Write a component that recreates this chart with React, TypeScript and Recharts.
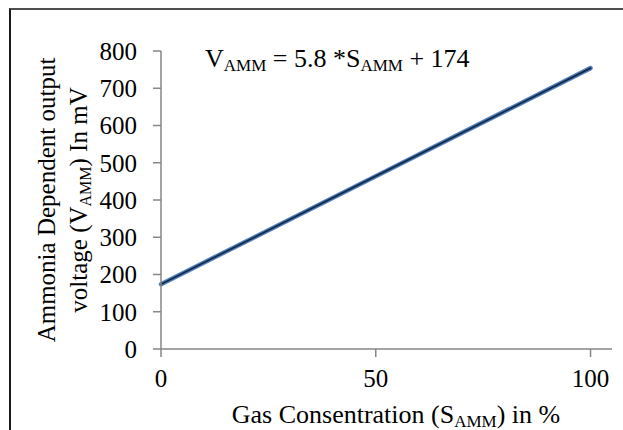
import React from "react";
import { Label, Line, LineChart, XAxis, YAxis } from "recharts";

const gasPercent = [0, 50, 100];
const voltageMv = [174, 464, 754];
const xTicks = [0, 50, 100];
const yTicks = [0, 100, 200, 300, 400, 500, 600, 700, 800];

const data = gasPercent.map((x, i) => ({ x, v: voltageMv[i] }));

const FONT = "'Liberation Serif', 'Times New Roman', serif";
const AXIS = "#868686";

function YTitle() {
	return <text
		transform="rotate(-90)"
		fontFamily={FONT}
		fontSize={25}
		fill="#000"
		textAnchor="middle"
	>
		<tspan x={-200} y={55}>Ammonia Dependent output</tspan>
		<tspan x={-200} y={87}>voltage (V<tspan fontSize={16} dy={4}>AMM</tspan><tspan dy={-4}>) In mV</tspan></tspan>
	</text>;
}

function XTitle() {
	return <text x={396} y={423} fontFamily={FONT} fontSize={26} fill="#000" textAnchor="middle">
		Gas Consentration (S<tspan fontSize={17} dy={4}>AMM</tspan><tspan dy={-4}>) in %</tspan>
	</text>;
}

function Equation() {
	return <text x={205} y={67} fontFamily={FONT} fontSize={26} fill="#000">
		V<tspan fontSize={17} dy={4}>AMM</tspan>
		<tspan dy={-4}> = 5.8 *S</tspan>
		<tspan fontSize={17} dy={4}>AMM</tspan>
		<tspan dy={-4}> + 174</tspan>
	</text>;
}

function App() {
	return <div style={{ position: "absolute", left: 0, top: 0, width: 623, height: 430, overflow: "hidden", background: "#fff" }}>
		<div style={{
			position: "absolute", left: 9, top: 8, width: 700, height: 500,
			borderTop: "2px solid #505050", borderLeft: "2px solid #1a1a1a",
		}} />
		<div style={{ position: "absolute", left: 0, top: 0 }}>
			<LineChart
				width={623}
				height={430}
				data={data}
				margin={{ top: 51, right: 11, bottom: 51, left: 0 }}
			>
				<XAxis
					type="number"
					dataKey="x"
					domain={[0, 105]}
					ticks={xTicks}
					height={30}
					stroke={AXIS}
					strokeWidth={1.5}
					tickSize={8}
					tickMargin={12}
					tick={{ fill: "#000", fontFamily: FONT, fontSize: 25 }}
				>
					<Label content={() => <XTitle />} />
				</XAxis>
				<YAxis
					type="number"
					domain={[0, 800]}
					ticks={yTicks}
					width={161}
					stroke={AXIS}
					strokeWidth={1.5}
					tickSize={8}
					tickMargin={16}
					tick={{ fill: "#000", fontFamily: FONT, fontSize: 25 }}
				>
					<Label content={() => <g><YTitle /><Equation /></g>} />
				</YAxis>
				<Line dataKey="v" type="linear" stroke="#4f81bd" strokeWidth={4.5} dot={false} isAnimationActive={false} strokeLinecap="round" />
				<Line dataKey="v" type="linear" stroke="#172a45" strokeWidth={1.8} dot={false} isAnimationActive={false} strokeLinecap="round" />
			</LineChart>
		</div>
	</div>;
}

export default App;
